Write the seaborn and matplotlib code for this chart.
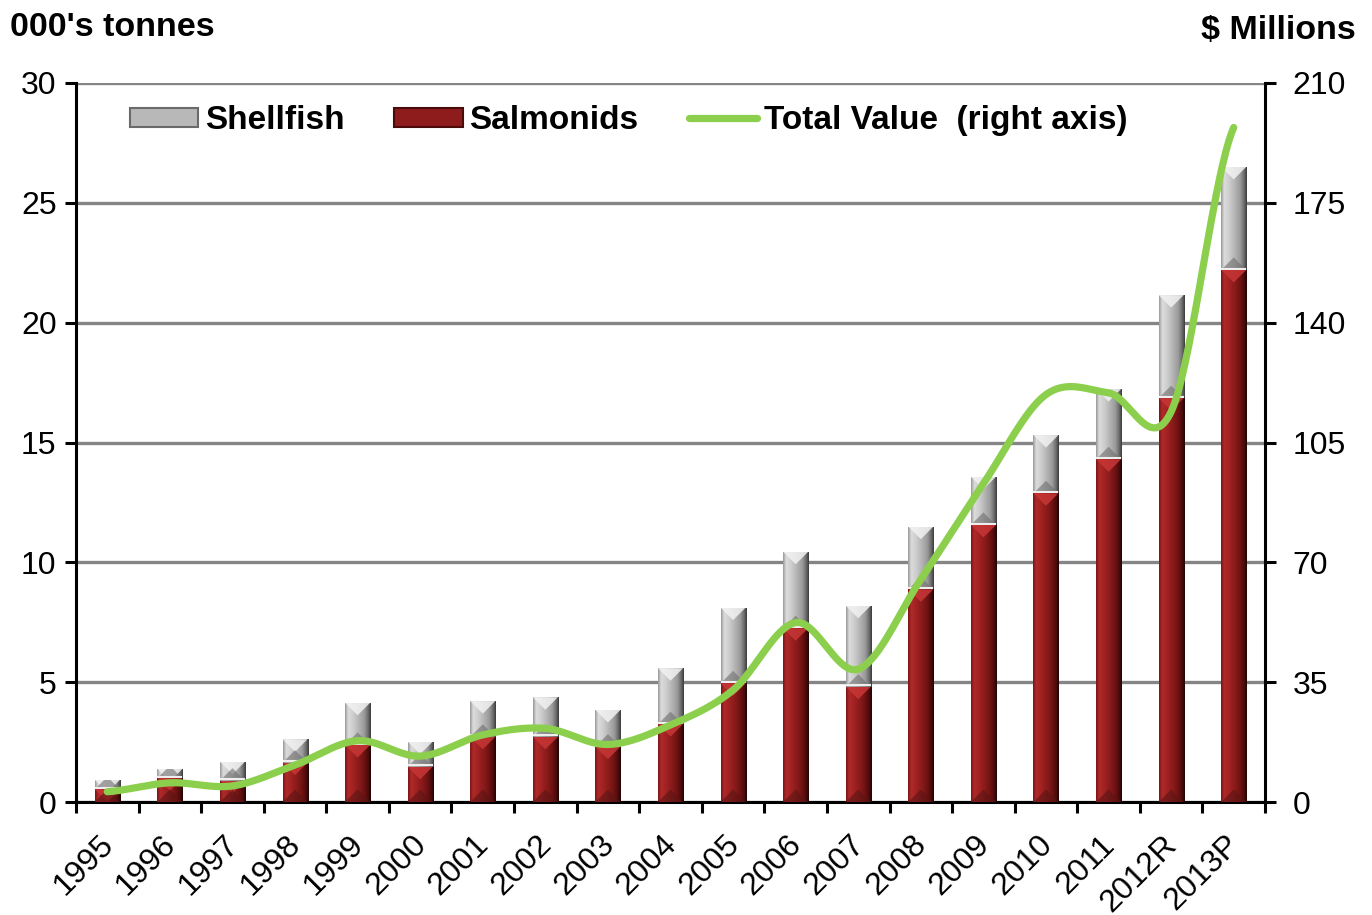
import numpy as np
import pandas as pd
import matplotlib
matplotlib.use("Agg")
import matplotlib.pyplot as plt
import matplotlib.transforms as mtransforms
from matplotlib.patches import Patch, Polygon, Rectangle
from matplotlib.lines import Line2D
import seaborn as sns

years = ["1995", "1996", "1997", "1998", "1999", "2000", "2001", "2002", "2003", "2004",
         "2005", "2006", "2007", "2008", "2009", "2010", "2011", "2012R", "2013P"]
salmonids = [0.53, 0.99, 0.89, 1.64, 2.38, 1.47, 2.72, 2.72, 2.31, 3.25,
             4.95, 7.25, 4.81, 8.87, 11.56, 12.88, 14.30, 16.85, 22.20]
shellfish = [0.39, 0.39, 0.79, 0.98, 1.76, 1.05, 1.49, 1.65, 1.53, 2.33,
             3.16, 3.19, 3.38, 2.62, 2.01, 2.43, 2.93, 4.30, 4.30]
total_value = [3.0, 5.6, 4.7, 10.8, 17.9, 13.4, 19.6, 21.5, 16.8, 22.5,
               32.7, 52.4, 38.8, 65.0, 93.0, 119.0, 119.5, 114.0, 197.0]
left_ticks = [0, 5, 10, 15, 20, 25, 30]
right_ticks = [0, 35, 70, 105, 140, 175, 210]

sns.set_theme(style="white")
plt.rcParams["font.family"] = ["Liberation Sans", "DejaVu Sans"]
plt.rcParams["text.color"] = "black"
plt.rcParams["axes.labelcolor"] = "black"
plt.rcParams["xtick.color"] = "black"
plt.rcParams["ytick.color"] = "black"

RED = "#8e1c1c"
GRAY = "#b4b4b4"
GREEN = "#8ccf4d"
TICK_FS = 23
LEG_FS = 24
TITLE_FS = 24.5

df = pd.DataFrame({"year": years, "salmonids": salmonids, "shellfish": shellfish})
df["total"] = df["salmonids"] + df["shellfish"]

fig = plt.figure(figsize=(13.72, 9.15), dpi=100)
ax = fig.add_axes([76 / 1372, 1 - 802 / 915, (1265 - 76) / 1372, (802 - 83) / 915])

sns.barplot(data=df, x="year", y="total", color=GRAY, width=0.4, saturation=1,
            ax=ax, zorder=2, linewidth=0)
sns.barplot(data=df, x="year", y="salmonids", color=RED, width=0.4, saturation=1,
            ax=ax, zorder=3, linewidth=0)

def gradient_colors(kind):
    if kind == "red":
        stops = [(0.0, "#7a1616"), (0.12, "#b02a2a"), (0.3, "#a22222"), (0.5, "#8e1c1c"),
                 (0.75, "#6e1212"), (0.9, "#4a0b0b"), (1.0, "#240404")]
    else:
        stops = [(0.0, "#9a9a9a"), (0.12, "#dcdcdc"), (0.3, "#cfcfcf"), (0.5, "#b8b8b8"),
                 (0.75, "#9a9a9a"), (0.9, "#6a6a6a"), (1.0, "#3c3c3c")]
    xs = np.linspace(0, 1, 64)
    pos = [s[0] for s in stops]
    rgb = np.array([matplotlib.colors.to_rgb(s[1]) for s in stops])
    arr = np.stack([np.interp(xs, pos, rgb[:, i]) for i in range(3)], axis=-1)
    return arr[None, :, :]

px_per_unit_y = 719 / 30.0
px_per_unit_x = 1189 / 19.0

n = len(years)
patches = list(ax.patches)
for i, p in enumerate(patches):
    kind = "gray" if i < n else "red"
    x0, y0 = p.get_x(), p.get_y()
    w, h = p.get_width(), p.get_height()
    if h <= 0:
        continue
    top = y0 + h
    bottom = df["salmonids"].iloc[i] if kind == "gray" else 0
    im = ax.imshow(gradient_colors(kind), extent=(x0, x0 + w, bottom, top), aspect="auto",
                   interpolation="bilinear", zorder=p.get_zorder() + 0.1)
    clip = Rectangle((x0, bottom), w, top - bottom, transform=ax.transData)
    im.set_clip_path(clip)
    depth = (w / 2) * px_per_unit_x / px_per_unit_y
    light = "#f2f2f2" if kind == "gray" else "#c83636"
    dark = "#6e6e6e" if kind == "gray" else "#5a1414"
    tri = Polygon([(x0, top), (x0 + w, top), (x0 + w / 2, top - depth)], closed=True,
                  facecolor=light, edgecolor="none", alpha=0.85, zorder=p.get_zorder() + 0.2)
    ax.add_patch(tri)
    tri.set_clip_path(clip)
    tri2 = Polygon([(x0, bottom), (x0 + w, bottom), (x0 + w / 2, bottom + depth)], closed=True,
                   facecolor=dark, edgecolor="none", alpha=0.6, zorder=p.get_zorder() + 0.2)
    ax.add_patch(tri2)
    tri2.set_clip_path(clip)
    if kind == "gray":
        ax.plot([x0, x0 + w], [bottom + 0.06, bottom + 0.06], color="#eeeeee", lw=1.5,
                zorder=p.get_zorder() + 0.3, solid_capstyle="butt")

ax.set_xlim(-0.5, n - 0.5)
ax.set_ylim(0, 30)
ax.set_yticks(left_ticks)
ax.set_xlabel("")
ax.set_ylabel("")
ax.yaxis.grid(True, color="#858585", linewidth=2.4, zorder=0)
ax.set_axisbelow(True)
ax.set_xticks(range(n))
ax.set_xticklabels(years, rotation=45, ha="right", va="top", rotation_mode="anchor")
ax.set_xticks(np.arange(-0.5, n, 1.0), minor=True)
ax.tick_params(axis="x", which="major", length=0, pad=20, labelsize=TICK_FS, colors="black")
ax.tick_params(axis="x", which="minor", length=8, width=2.2, direction="out", color="black", bottom=True)
ax.tick_params(axis="y", which="major", length=8, width=2.2, direction="out", left=True,
               labelsize=TICK_FS, colors="black", pad=6)
offset = mtransforms.ScaledTranslation(-9 / 100, 0, fig.dpi_scale_trans)
for lbl in ax.get_xticklabels():
    lbl.set_transform(lbl.get_transform() + offset)
for s in ["top", "right"]:
    ax.spines[s].set_visible(False)
for s in ["left", "bottom"]:
    ax.spines[s].set_color("black")
    ax.spines[s].set_linewidth(2.2)

# Smoothed total value line (Bezier with Catmull-Rom tangents through the data points)
ax2 = ax.twinx()
pts = np.array(total_value, dtype=float)
xs_all, ys_all = [], []
P = np.concatenate([[pts[0]], pts, [pts[-1]]])
X = np.concatenate([[-1.0], np.arange(n, dtype=float), [float(n)]])
for k in range(n - 1):
    p0, p1, p2, p3 = P[k], P[k + 1], P[k + 2], P[k + 3]
    x0_, x1_, x2_, x3_ = X[k], X[k + 1], X[k + 2], X[k + 3]
    t = np.linspace(0, 1, 40)
    c1y = p1 + (p2 - p0) / 6.0
    c2y = p2 - (p3 - p1) / 6.0
    c1x = x1_ + (x2_ - x0_) / 6.0
    c2x = x2_ - (x3_ - x1_) / 6.0
    bx = (1 - t) ** 3 * x1_ + 3 * (1 - t) ** 2 * t * c1x + 3 * (1 - t) * t ** 2 * c2x + t ** 3 * x2_
    by = (1 - t) ** 3 * p1 + 3 * (1 - t) ** 2 * t * c1y + 3 * (1 - t) * t ** 2 * c2y + t ** 3 * p2
    xs_all.append(bx)
    ys_all.append(by)
xs_all = np.concatenate(xs_all)
ys_all = np.concatenate(ys_all)
ax2.plot(xs_all, ys_all, color=GREEN, linewidth=5.2, solid_capstyle="round", zorder=5)
ax2.set_ylim(0, 210)
ax2.set_yticks(right_ticks)
ax2.tick_params(axis="y", which="major", length=8, width=2.2, direction="out", right=True,
                labelsize=TICK_FS, colors="black", pad=12)
ax2.grid(False)
for s in ["top", "left", "bottom"]:
    ax2.spines[s].set_visible(False)
ax2.spines["right"].set_color("black")
ax2.spines["right"].set_linewidth(2.2)

handles = [Patch(facecolor="#b8b8b8", edgecolor="#6a6a6a", linewidth=1.5),
           Patch(facecolor=RED, edgecolor="#4a0b0b", linewidth=1.5),
           Line2D([0], [0], color=GREEN, linewidth=5.2, solid_capstyle="round")]
labels = ["Shellfish", "Salmonids", "Total Value  (right axis)"]
leg = ax2.legend(handles, labels, ncol=3, loc="upper left", bbox_to_anchor=(0.034, 0.988),
                 frameon=False, prop={"weight": "bold", "size": LEG_FS}, handlelength=2.05,
                 handleheight=0.5, handletextpad=0.2, columnspacing=1.5, borderaxespad=0)
for txt in leg.get_texts():
    txt.set_color("black")

fig.text(10 / 1372, 1 - 27 / 915, "000's tonnes", fontsize=TITLE_FS, fontweight="bold",
         ha="left", va="center", color="black")
fig.text(1356 / 1372, 1 - 31 / 915, "$ Millions", fontsize=TITLE_FS, fontweight="bold",
         ha="right", va="center", color="black")

fig.savefig("out.png", dpi=100)
